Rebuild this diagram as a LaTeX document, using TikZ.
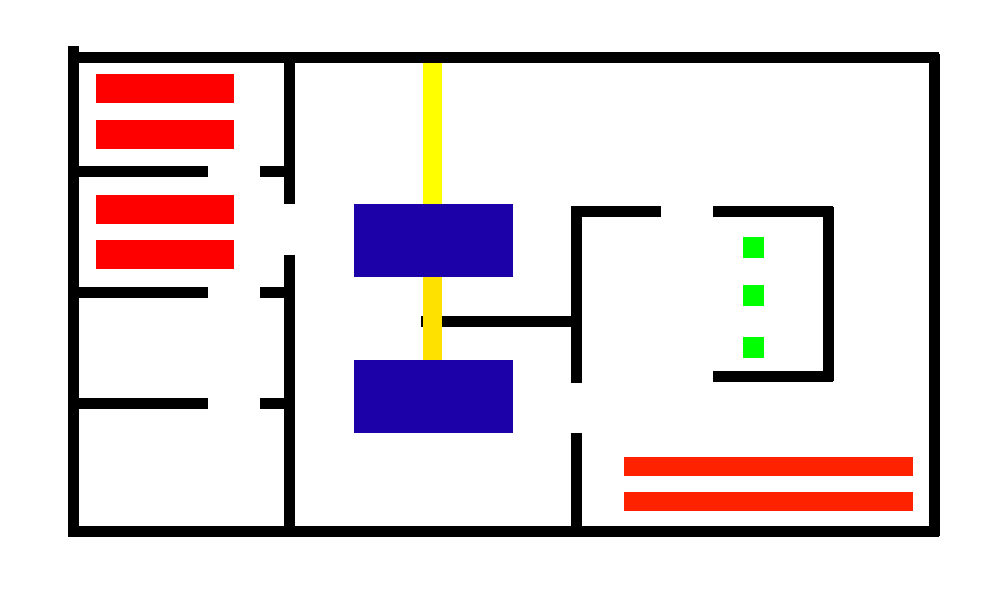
\documentclass[tikz,border=0pt]{standalone}
\definecolor{wred}{RGB}{255,0,0}
\definecolor{ored}{RGB}{255,34,0}
\definecolor{wblue}{RGB}{28,0,168}
\definecolor{wyel}{RGB}{255,255,0}
\definecolor{wgold}{RGB}{255,225,0}
\definecolor{wgreen}{RGB}{0,255,0}
\newcommand{\pxrect}[5]{\fill[#1] (#2pt,-#3pt) rectangle (#4pt,-#5pt);}
\begin{document}
\begin{tikzpicture}[x=1pt,y=1pt]
\useasboundingbox (0,0) rectangle (1000,-600);
\fill[white] (0,0) rectangle (1000,-600);
% outer walls
\pxrect{black}{68}{46}{79}{537}
\pxrect{black}{68}{52}{939}{63}
\pxrect{black}{929}{54}{940}{536}
\pxrect{black}{68}{526}{939}{537}
% left partition
\pxrect{black}{284}{63}{295}{204}
\pxrect{black}{284}{255}{295}{526}
% room walls left
\pxrect{black}{79}{166}{208.1}{177}
\pxrect{black}{259.9}{166}{284}{177}
\pxrect{black}{79}{287}{208.1}{298}
\pxrect{black}{259.9}{287}{284}{298}
\pxrect{black}{79}{398}{208.1}{409}
\pxrect{black}{259.9}{398}{284}{409}
% centre partition
\pxrect{black}{571}{206}{582}{382.5}
\pxrect{black}{571}{432.6}{582}{526}
\pxrect{black}{571}{206}{661}{217}
\pxrect{black}{713}{206}{833}{217}
\pxrect{black}{823}{207}{834}{381}
\pxrect{black}{712.8}{371}{833}{382}
\pxrect{black}{421}{316}{571}{327}
% yellow bars
\pxrect{wyel}{423}{63}{442}{204}
\pxrect{wgold}{423}{277}{442}{360}
% red
\pxrect{wred}{96}{74}{234}{103}
\pxrect{wred}{96}{120}{234}{149}
\pxrect{wred}{96}{195}{234}{224}
\pxrect{wred}{96}{240}{234}{269}
\pxrect{ored}{624}{457}{913}{476}
\pxrect{ored}{624}{492}{913}{511}
% blue
\pxrect{wblue}{354}{204}{513}{277}
\pxrect{wblue}{354}{360}{513}{433}
% green
\pxrect{wgreen}{743}{237}{764}{258}
\pxrect{wgreen}{743}{285}{764}{306}
\pxrect{wgreen}{743}{337}{764}{358}
\end{tikzpicture}
\end{document}
